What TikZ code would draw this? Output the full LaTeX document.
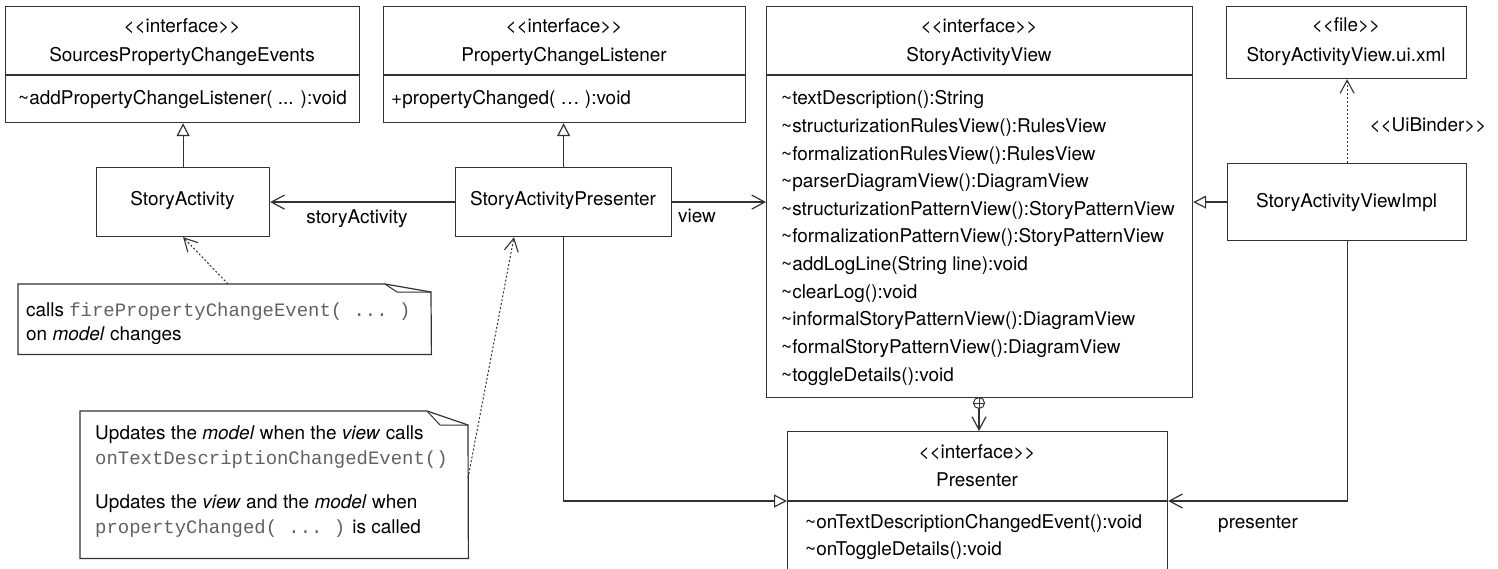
\documentclass[tikz,border=0pt]{standalone}
\usepackage{fontspec}
\setmainfont{TeX Gyre Heros}
\setmonofont{Liberation Mono}
\usetikzlibrary{arrows.meta}
\definecolor{linec}{gray}{0.2}
\definecolor{codec}{gray}{0.38}
\newcommand\umlsize{\fontsize{18.95}{24}\selectfont}
\newcommand\code[1]{{\ttfamily\color{codec}#1}}
\newcommand\stereo[1]{<{}<#1>{}>}

\begin{document}
\begin{tikzpicture}[x=1pt,y=-1pt,
  box/.style={draw=linec,line width=1.2pt,fill=white,inner sep=0,anchor=north west},
  area/.style={inner sep=0,anchor=north west},
  txt/.style={inner sep=0,font=\umlsize,text=black},
  ttl/.style={txt,anchor=base},
  mth/.style={txt,anchor=base west},
  conn/.style={draw=linec,line width=1.2pt},
  divider/.style={draw=linec,line width=1.2pt},
  assoc/.style={conn,-{Straight Barb[length=13pt,width=14pt,line width=1.2pt]}},
  realize/.style={conn,-{Triangle[open,length=13pt,width=13pt,fill=white,line width=1.2pt]}},
  depend/.style={conn,line width=1pt,dash pattern=on 2pt off 2pt,
    -{Straight Barb[length=13pt,width=14pt,line width=1.1pt]}},
]
\useasboundingbox (0,0) rectangle (1498,569);

% ---------- classes ----------
\node[box,minimum width=354pt,minimum height=116pt] (spce) at (5,6) {};
\node[box,minimum width=362pt,minimum height=116pt] (pcl) at (383,6) {};
\node[box,minimum width=426pt,minimum height=391pt] (sav) at (766,6) {};
\node[box,minimum width=240pt,minimum height=72pt] (file) at (1226,6) {};
\node[box,minimum width=173pt,minimum height=69pt] (sa) at (96,167) {};
\node[box,minimum width=216pt,minimum height=69pt] (sap) at (455,167) {};
\node[box,minimum width=239pt,minimum height=77pt] (impl) at (1227,163) {};
\node[box,minimum width=380pt,minimum height=170pt] (pres) at (787,431) {};

% compartment lines
\draw[divider] (spce.west |- 0,75) -- (spce.east |- 0,75);
\draw[divider] (pcl.west |- 0,75) -- (pcl.east |- 0,75);
\draw[divider] (sav.west |- 0,75) -- (sav.east |- 0,75);
\draw[divider] (pres.west |- 0,501) -- (pres.east |- 0,501);

% ---------- class texts ----------
\node[ttl] (spce-s) at (182,33) {\stereo{interface}};
\node[ttl] (spce-n) at (182,62) {SourcesPropertyChangeEvents};
\node[mth] (spce-m) at (18,105) {\textasciitilde addPropertyChangeListener( ... ):void};

\node[ttl] (pcl-s) at (564,33) {\stereo{interface}};
\node[ttl] (pcl-n) at (564,62) {PropertyChangeListener};
\node[mth] (pcl-m) at (391,105) {+propertyChanged( … ):void};

\node[ttl] (sav-s) at (979,33) {\stereo{interface}};
\node[ttl] (sav-n) at (979,62) {StoryActivityView};
\foreach \m [count=\i from 0] in {
  textDescription():String,
  structurizationRulesView():RulesView,
  formalizationRulesView():RulesView,
  parserDiagramView():DiagramView,
  structurizationPatternView():StoryPatternView,
  formalizationPatternView():StoryPatternView,
  addLogLine(String line):void,
  clearLog():void,
  informalStoryPatternView():DiagramView,
  formalStoryPatternView():DiagramView,
  toggleDetails():void}
  \node[mth] (sav-m\i) at (781,105+27.6*\i) {\textasciitilde\m};

\node[ttl] (file-s) at (1346,32) {\stereo{file}};
\node[ttl] (file-n) at (1346,62) {StoryActivityView.ui.xml};

\node[ttl] (sa-n) at (182.5,206) {StoryActivity};
\node[ttl] (sap-n) at (563,206) {StoryActivityPresenter};
\node[ttl] (impl-n) at (1346.5,208) {StoryActivityViewImpl};

\node[ttl] (pres-s) at (977,458) {\stereo{interface}};
\node[ttl] (pres-n) at (977,486) {Presenter};
\node[mth] (pres-m0) at (805,528) {\textasciitilde onTextDescriptionChangedEvent():void};
\node[mth] (pres-m1) at (805,555) {\textasciitilde onToggleDetails():void};

% ---------- notes ----------
\node[area,minimum width=413pt,minimum height=70pt] (note1) at (18,284) {};
\draw[conn] (note1.south west) -- (note1.north west) -- (385,284) -- (431,292)
  -- (note1.south east) -- cycle;
\draw[conn,line width=1pt] (385,284) -- (397,292) -- (431,292);
\node[mth] (note1-a) at (26,316) {calls \code{firePropertyChangeEvent( ... )}};
\node[mth] (note1-b) at (26,340) {on \textit{model} changes};

\node[area,minimum width=388pt,minimum height=147pt] (note2) at (80,411) {};
\draw[conn] (note2.south west) -- (note2.north west) -- (427,411) -- (468,425)
  -- (note2.south east) -- cycle;
\draw[conn,line width=1pt] (427,411) -- (440,425) -- (468,425);
\node[mth] (note2-a) at (95,439) {Updates the \textit{model} when the \textit{view} calls};
\node[mth] (note2-b) at (95,464) {\code{onTextDescriptionChangedEvent()}};
\node[mth] (note2-c) at (95,508) {Updates the \textit{view} and the \textit{model} when};
\node[mth] (note2-d) at (95,533) {\code{propertyChanged( ... )} is called};

% ---------- relations ----------
\draw[realize] (sa.north) -- (sa.north |- spce.south);
\draw[realize] (sap.north) -- (sap.north |- pcl.south);
\draw[assoc] (sap.west) -- (sa.east);
\draw[assoc] (sap.east) -- (sap.east -| sav.west);
\draw[realize] (impl.west) -- (impl.west -| sav.east);
\draw[depend] (impl.north) -- (impl.north |- file.south);
\draw[realize] (sap.south) |- (pres.west |- 0,501);
\draw[assoc] (impl.south) |- (pres.east |- 0,501);

% nesting of Presenter inside StoryActivityView
\node[circle,draw=linec,line width=1pt,minimum size=11pt,inner sep=0,fill=white] (nest) at (979,403) {};
\draw[conn,line width=1pt] (nest.north) -- (nest.south) (nest.west) -- (nest.east);
\draw[assoc] (nest.south) -- (nest.south |- pres.north);

% note anchors
\coordinate (n1a) at (228,284);
\coordinate (n2a) at (468,478);
\draw[depend] (n1a) -- (sa.south);
\draw[depend] (n2a) -- (sap.south -| 514,0);

% ---------- role names ----------
\node[ttl] (l-sa) at (357,224) {storyActivity};
\node[ttl] (l-view) at (697,223) {view};
\node[ttl] (l-ui) at (1428,132) {\stereo{UiBinder}};
\node[ttl] (l-pres) at (1258,528) {presenter};
\end{tikzpicture}
\end{document}
